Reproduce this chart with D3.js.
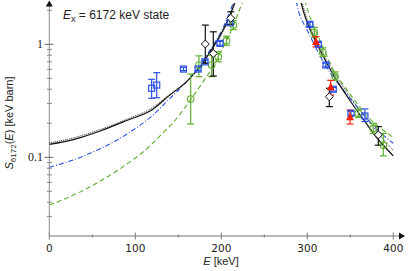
<!DOCTYPE html>
<html>
<head>
<meta charset="utf-8">
<script src="https://cdn.jsdelivr.net/npm/d3@7"></script>
<style>
    body { margin: 0; background: #fff; }
    svg { display: block; font-family: 'Liberation Sans', Arial, sans-serif; }
</style>
</head>
<body>
<svg width="415" height="271"></svg>
<script>
// curve points, [E (keV), S (keV barn)]
var solidLeft = [[0, 0.130], [30, 0.145], [60, 0.172], [90, 0.212], [120, 0.265], [140, 0.355], [160, 0.47], [175, 0.63], [190, 0.93], [200, 1.25], [210, 1.80], [216, 2.4]];
var dottedLeft = [[0, 0.134], [30, 0.150], [60, 0.177], [90, 0.217], [120, 0.275], [140, 0.36], [160, 0.47], [175, 0.63], [190, 0.92], [200, 1.22], [210, 1.75], [217, 2.4]];
var blueLeft = [[0, 0.0816], [30, 0.096], [60, 0.12], [90, 0.16], [120, 0.235], [140, 0.33], [160, 0.47], [175, 0.645], [190, 0.97], [200, 1.3], [210, 1.95], [215, 2.45]];
var greenLeft = [[0, 0.0378], [30, 0.047], [60, 0.062], [90, 0.087], [110, 0.113], [130, 0.158], [150, 0.23], [165, 0.33], [180, 0.48], [190, 0.63], [200, 0.87], [210, 1.25], [218, 1.75], [225, 2.4]];

var solidRight = [[292, 2.45], [296, 1.9], [300, 1.55], [310, 1.05], [320, 0.745], [330, 0.54], [340, 0.41], [350, 0.315], [360, 0.245], [370, 0.193], [380, 0.152], [390, 0.124], [400, 0.103]];
var dottedRight = [[293, 2.45], [297, 1.95], [300, 1.65], [310, 1.1], [320, 0.78], [330, 0.575], [340, 0.44], [350, 0.34], [360, 0.27], [370, 0.215], [380, 0.172], [390, 0.14], [400, 0.115]];
var blueRight = [[287, 2.4], [290, 1.95], [300, 1.33], [310, 0.93], [320, 0.67], [330, 0.515], [340, 0.41], [350, 0.33], [360, 0.268], [370, 0.218], [380, 0.18], [390, 0.153], [400, 0.133]];
var greenRight = [[297, 2.45], [300, 2.05], [310, 1.3], [320, 0.88], [330, 0.6], [340, 0.46], [350, 0.36], [360, 0.285], [370, 0.23], [380, 0.195], [390, 0.17], [400, 0.15]];

// data points: [E, S, S low, S high]
var blueSquares = [[119, 0.408, 0.333, 0.49], [124.9, 0.436, 0.337, 0.561], [156, 0.604, 0.585, 0.625], [173, 0.604, 0.585, 0.625],
    [181, 0.70, 0.68, 0.72], [198.5, 1.02, 0.98, 1.06], [210, 1.55, 1.5, 1.62],
    [303, 1.50, 1.44, 1.57], [312.8, 1.0, 0.96, 1.04], [321.7, 0.656, 0.63, 0.68], [330.2, 0.40, 0.385, 0.415],
    [350.8, 0.245, 0.235, 0.255], [367, 0.232, 0.207, 0.268]];
var greenCircles = [[164.4, 0.328, 0.197, 0.545], [174, 0.655, 0.517, 0.79], [188.8, 0.655, 0.517, 0.80], [196.5, 0.777, 0.70, 0.86],
    [206, 1.076, 0.98, 1.18], [214, 1.48, 1.35, 1.62],
    [308.2, 1.277, 1.15, 1.41], [318, 0.85, 0.78, 0.93], [332.2, 0.524, 0.48, 0.57], [359.3, 0.245, 0.225, 0.267],
    [376.7, 0.18, 0.163, 0.2], [388.4, 0.128, 0.103, 0.163]];
var redTriangles = [[310.1, 1.05, 0.95, 1.17], [327.2, 0.416, 0.355, 0.48], [349.7, 0.226, 0.197, 0.262]];
var blackDiamonds = [[181.4, 1.006, 0.68, 1.48], [190.7, 0.83, 0.524, 1.29], [211, 1.7, 1.5, 1.94],
    [325.6, 0.344, 0.281, 0.408], [382.6, 0.158, 0.128, 0.187]];

var xTicks = [0, 100, 200, 300, 400];
var xMinorTicks = [50, 150, 250, 350];
var yTicks = [0.1, 1];
var yMinorTicks = [0.03, 0.04, 0.05, 0.06, 0.07, 0.08, 0.09, 0.2, 0.3, 0.4, 0.5, 0.6, 0.7, 0.8, 0.9, 2];

var svg = d3.select('svg');

var xScale = d3.scaleLinear().domain([0, 400]).range([49.3, 393.3]);
var yScale = d3.scaleLog().domain([0.02, 2.32]).range([236.3, 3]);

var axisGrey = '#8c8c8c';
var blue = '#2a52e6';
var green = '#5fae2e';
var red = '#f5200a';

// clip the curves to the plot box
svg.append('clipPath').attr('id', 'plotClip')
    .append('rect')
    .attr('x', xScale(0)).attr('y', 3)
    .attr('width', 360).attr('height', yScale(0.02) - 3);

// ---- axes ----
var axisG = svg.append('g');

// x axis line (thick light grey) with arrow
axisG.append('line')
    .attr('x1', xScale(0)).attr('x2', 400)
    .attr('y1', 236).attr('y2', 236)
    .attr('stroke', '#b8b8b8').attr('stroke-width', 2);
axisG.append('path')
    .attr('d', 'M399,232.5 L405,236 L399,239.5 Z')
    .attr('fill', '#111');

axisG.selectAll('.xtick').data(xTicks).enter()
    .append('line')
    .attr('x1', d => xScale(d)).attr('x2', d => xScale(d))
    .attr('y1', 232.5).attr('y2', 239.5)
    .attr('stroke', '#777').attr('stroke-width', 1);
axisG.selectAll('.xminor').data(xMinorTicks).enter()
    .append('line')
    .attr('x1', d => xScale(d)).attr('x2', d => xScale(d))
    .attr('y1', 234.5).attr('y2', 237.5)
    .attr('stroke', '#777').attr('stroke-width', 1);
axisG.selectAll('.xlabel').data(xTicks).enter()
    .append('text')
    .attr('x', d => xScale(d)).attr('y', 252)
    .attr('text-anchor', 'middle')
    .style('font-family', 'DejaVu Sans, sans-serif')
    .style('font-size', '10.5px')
    .attr('fill', '#222')
    .text(d => d);

// y axis line with arrow
axisG.append('line')
    .attr('x1', 49.3).attr('x2', 49.3)
    .attr('y1', 236).attr('y2', 6)
    .attr('stroke', axisGrey).attr('stroke-width', 1);
axisG.append('path')
    .attr('d', 'M45.8,6.5 L49.3,0.5 L52.8,6.5 Z')
    .attr('fill', '#111');

axisG.selectAll('.ytick').data(yTicks).enter()
    .append('line')
    .attr('x1', 44.5).attr('x2', 53.5)
    .attr('y1', d => yScale(d)).attr('y2', d => yScale(d))
    .attr('stroke', '#666').attr('stroke-width', 1);
axisG.selectAll('.yminor').data(yMinorTicks).enter()
    .append('line')
    .attr('x1', 47).attr('x2', 52)
    .attr('y1', d => yScale(d)).attr('y2', d => yScale(d))
    .attr('stroke', '#888').attr('stroke-width', 1);
axisG.selectAll('.ylabel').data(yTicks).enter()
    .append('text')
    .attr('x', 43).attr('y', d => yScale(d) + 4)
    .attr('text-anchor', 'end')
    .style('font-family', 'Liberation Serif, serif')
    .style('font-size', '12px')
    .attr('fill', '#222')
    .text(d => d);

// axis titles
var yTitle = svg.append('text')
    .attr('transform', 'translate(13, 123) rotate(-90)')
    .attr('text-anchor', 'middle')
    .style('font-size', '11px')
    .attr('fill', '#222');
yTitle.append('tspan').style('font-style', 'italic').text('S');
yTitle.append('tspan').attr('dy', 3).style('font-size', '8px').text('6172');
yTitle.append('tspan').attr('dy', -3).text('(');
yTitle.append('tspan').style('font-style', 'italic').text('E');
yTitle.append('tspan').text(') [keV barn]');

var xTitle = svg.append('text')
    .attr('x', 221).attr('y', 265)
    .attr('text-anchor', 'middle')
    .style('font-size', '11px')
    .attr('fill', '#222');
xTitle.append('tspan').style('font-style', 'italic').text('E');
xTitle.append('tspan').text(' [keV]');

// state label
var title = svg.append('text')
    .attr('x', 63).attr('y', 19)
    .style('font-size', '12px')
    .attr('fill', '#222');
title.append('tspan').style('font-style', 'italic').text('E');
title.append('tspan').attr('dy', 3).style('font-size', '9px').text('x');
title.append('tspan').attr('dy', -3).text(' = 6172 keV state');

// ---- curves ----
var line = d3.line()
    .x(d => xScale(d[0]))
    .y(d => yScale(d[1]))
    .curve(d3.curveMonotoneX);

var curveG = svg.append('g').attr('clip-path', 'url(#plotClip)');

var curves = [
    { pts: greenLeft, color: green, dash: '5,3', w: 1.1 },
    { pts: greenRight, color: green, dash: '5,3', w: 1.1 },
    { pts: blueLeft, color: blue, dash: '5,2,1,2', w: 1.1 },
    { pts: blueRight, color: blue, dash: '5,2,1,2', w: 1.1 },
    { pts: dottedLeft, color: '#333', dash: '1,1', w: 1 },
    { pts: dottedRight, color: '#333', dash: '1,1', w: 1 },
    { pts: solidLeft, color: '#111', dash: null, w: 1.2 },
    { pts: solidRight, color: '#111', dash: null, w: 1.2 }
];

curves.forEach(function (c) {
    curveG.append('path')
        .datum(c.pts)
        .attr('d', line)
        .attr('fill', 'none')
        .attr('stroke', c.color)
        .attr('stroke-width', c.w)
        .attr('stroke-dasharray', c.dash);
});

// ---- data points with error bars ----
function drawErrors(data, color) {
    var g = svg.append('g').attr('stroke', color).attr('stroke-width', 1.2);
    g.selectAll('.err').data(data).enter()
        .append('line')
        .attr('x1', d => xScale(d[0])).attr('x2', d => xScale(d[0]))
        .attr('y1', d => yScale(d[2])).attr('y2', d => yScale(d[3]));
    g.selectAll('.capLo').data(data).enter()
        .append('line')
        .attr('x1', d => xScale(d[0]) - 3.5).attr('x2', d => xScale(d[0]) + 3.5)
        .attr('y1', d => yScale(d[2])).attr('y2', d => yScale(d[2]));
    g.selectAll('.capHi').data(data).enter()
        .append('line')
        .attr('x1', d => xScale(d[0]) - 3.5).attr('x2', d => xScale(d[0]) + 3.5)
        .attr('y1', d => yScale(d[3])).attr('y2', d => yScale(d[3]));
}

drawErrors(greenCircles, green);
drawErrors(blueSquares, blue);
drawErrors(blackDiamonds, '#111');
drawErrors(redTriangles, red);

svg.append('g').selectAll('circle').data(greenCircles).enter()
    .append('circle')
    .attr('cx', d => xScale(d[0])).attr('cy', d => yScale(d[1]))
    .attr('r', 3.3)
    .attr('fill', 'none').attr('stroke', green).attr('stroke-width', 1.1);

svg.append('g').selectAll('rect').data(blueSquares).enter()
    .append('rect')
    .attr('x', d => xScale(d[0]) - 3).attr('y', d => yScale(d[1]) - 3)
    .attr('width', 6).attr('height', 6)
    .attr('fill', 'none').attr('stroke', blue).attr('stroke-width', 1.2);

svg.append('g').selectAll('path').data(blackDiamonds).enter()
    .append('path')
    .attr('d', d => {
        var cx = xScale(d[0]), cy = yScale(d[1]);
        return 'M' + cx + ',' + (cy - 4) + 'L' + (cx + 4) + ',' + cy + 'L' + cx + ',' + (cy + 4) + 'L' + (cx - 4) + ',' + cy + 'Z';
    })
    .attr('fill', '#fff').attr('stroke', '#111').attr('stroke-width', 1);

svg.append('g').selectAll('path').data(redTriangles).enter()
    .append('path')
    .attr('d', d => {
        var cx = xScale(d[0]), cy = yScale(d[1]);
        return 'M' + cx + ',' + (cy - 4.5) + 'L' + (cx + 4) + ',' + (cy + 3) + 'L' + (cx - 4) + ',' + (cy + 3) + 'Z';
    })
    .attr('fill', red);
</script>
</body>
</html>
